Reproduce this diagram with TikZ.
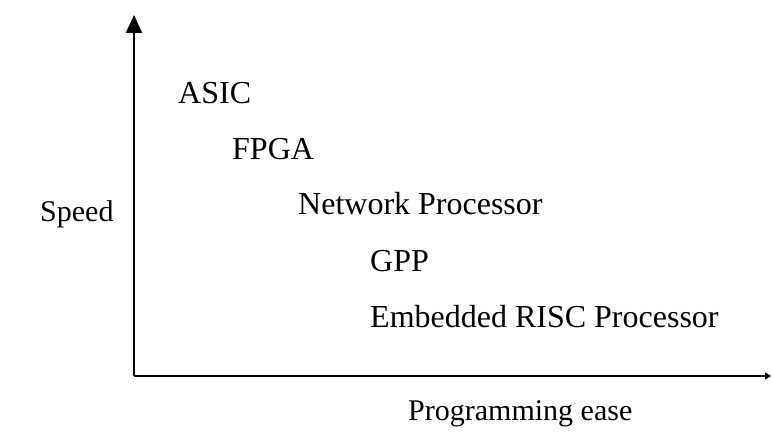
\documentclass[tikz,border=0pt]{standalone}
\usepackage{fontspec}
\setmainfont{Liberation Serif}
\usetikzlibrary{arrows.meta}
\begin{document}
\begin{tikzpicture}[x=1pt,y=-1pt,
  lbl/.style={anchor=base west,inner sep=0pt,font=\fontsize{32}{38}\selectfont},
  axislbl/.style={anchor=base west,inner sep=0pt,font=\fontsize{30}{36}\selectfont},
  axis/.style={line width=2.2pt}]
\useasboundingbox (0,0) rectangle (772,438);
% axes
\coordinate (origin) at (134,376);
\coordinate (ytop) at (134,15);
\coordinate (xend) at (771,376);
\draw[axis,-{Triangle[length=18pt,width=16pt]}] (origin) -- (ytop);
\draw[axis,-{Triangle[length=6pt,width=7pt]}] (origin) -- (xend);
% axis labels
\node[axislbl] (speed) at (40,222) {Speed};
\node[axislbl] (ease) at (408,421) {Programming ease};
% technologies, fastest first
\node[lbl] (asic) at (178,104) {ASIC};
\node[lbl] (fpga) at (232,160) {FPGA};
\node[lbl] (np) at (298,215) {Network Processor};
\node[lbl] (gpp) at (370,272) {GPP};
\node[lbl] (risc) at (370,328) {Embedded RISC Processor};
\end{tikzpicture}
\end{document}
